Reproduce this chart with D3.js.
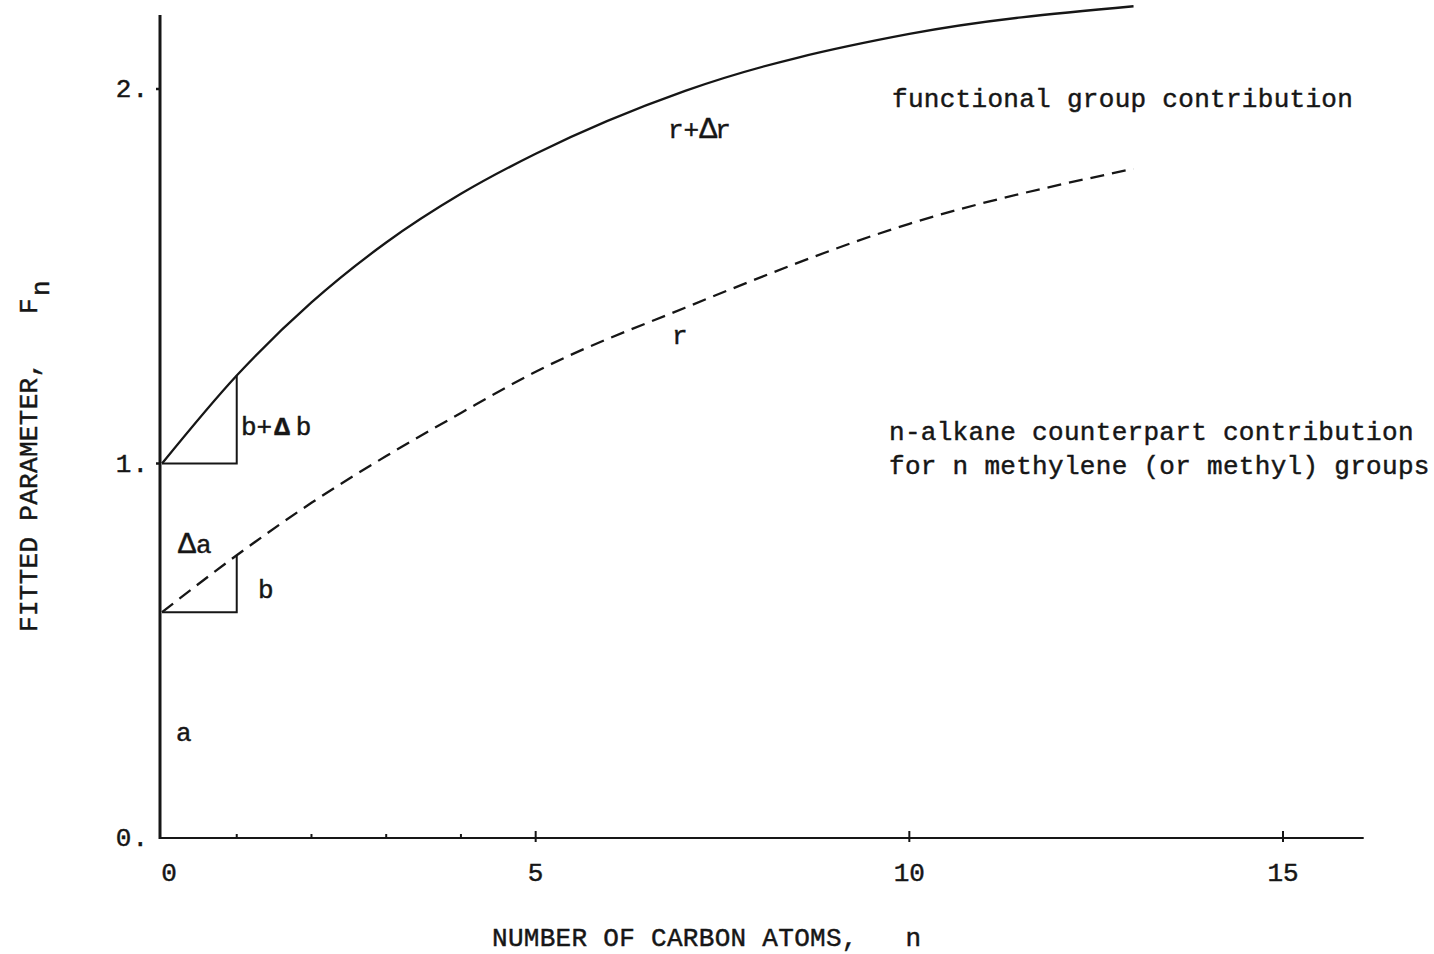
<!DOCTYPE html>
<html>
<head>
<meta charset="utf-8">
<script src="https://cdn.jsdelivr.net/npm/d3@7"></script>
<style>
  html, body { margin: 0; padding: 0; background: #fff; }
  svg text { font-family: 'Liberation Mono', 'DejaVu Sans Mono', monospace; fill: #161616; stroke: #161616; stroke-width: 0.45; white-space: pre; }
</style>
</head>
<body>
<svg id="chart" width="1434" height="954"></svg>
<script>
// ── Data ─────────────────────────────────────────────────────────
const nFunctional = [0, 1, 2, 3, 4, 5, 7, 10, 13];
const fFunctional = [1.0, 1.235, 1.43, 1.59, 1.72, 1.827, 1.995, 2.147, 2.221];   // r + Δr (solid)

const nAlkane = [0, 1, 2, 3, 4, 5, 7, 10, 13];
const fAlkane = [0.603, 0.755, 0.895, 1.02, 1.135, 1.245, 1.416, 1.64, 1.787]; // r (dashed)

const xTickValues = [0, 5, 10, 15];
const xTickLabels = ['0', '5', '10', '15'];
const xMinorTicks = [1, 2, 3, 4];
const yTickValues = [0, 1, 2];
const yTickLabels = ['0.', '1.', '2.'];

const INK = '#161616';
const svg = d3.select('#chart');

// scales
const x = d3.scaleLinear().domain([0, 15]).range([162, 1283]);
const y = d3.scaleLinear().domain([0, 2]).range([838, 89]);

// ── Axes ─────────────────────────────────────────────────────────
svg.append('line')
    .attr('x1', 160).attr('x2', 160)
    .attr('y1', y(0) + 1).attr('y2', 15)
    .attr('stroke', INK).attr('stroke-width', 3);

svg.append('line')
    .attr('x1', 159).attr('x2', x(16.08))
    .attr('y1', y(0)).attr('y2', y(0))
    .attr('stroke', INK).attr('stroke-width', 2.2);

// x ticks
svg.selectAll('.x-minor')
    .data(xMinorTicks)
    .join('line')
    .attr('class', 'x-minor')
    .attr('x1', d => x(d)).attr('x2', d => x(d))
    .attr('y1', y(0)).attr('y2', y(0) - 4)
    .attr('stroke', INK).attr('stroke-width', 2);

svg.selectAll('.x-major')
    .data(xTickValues.filter(d => d > 0))
    .join('line')
    .attr('class', 'x-major')
    .attr('x1', d => x(d)).attr('x2', d => x(d))
    .attr('y1', y(0) + 4).attr('y2', y(0) - 7)
    .attr('stroke', INK).attr('stroke-width', 2);

svg.selectAll('.x-label')
    .data(xTickValues)
    .join('text')
    .attr('class', 'x-label')
    .attr('x', (d, i) => i === 0 ? x(d) + 7 : x(d))
    .attr('y', 881)
    .attr('text-anchor', 'middle')
    .attr('font-size', 26)
    .text((d, i) => xTickLabels[i]);

// y ticks (small dots left of axis) + labels
svg.selectAll('.y-tick')
    .data(yTickValues.filter(d => d > 0))
    .join('line')
    .attr('class', 'y-tick')
    .attr('x1', 156).attr('x2', 160)
    .attr('y1', d => y(d)).attr('y2', d => y(d))
    .attr('stroke', INK).attr('stroke-width', 2.5);

svg.selectAll('.y-label')
    .data(yTickValues)
    .join('text')
    .attr('class', 'y-label')
    .attr('x', 149)
    .attr('y', d => y(d) + 8)
    .attr('text-anchor', 'end')
    .attr('font-size', 26)
    .attr('letter-spacing', 1)
    .text((d, i) => yTickLabels[i]);

// ── Curves ───────────────────────────────────────────────────────
const line = d3.line()
    .x(d => x(d[0]))
    .y(d => y(d[1]))
    .curve(d3.curveMonotoneX);

svg.append('path')
    .attr('d', line(nFunctional.map((n, i) => [n, fFunctional[i]])))
    .attr('fill', 'none')
    .attr('stroke', INK)
    .attr('stroke-width', 2.3);

svg.append('path')
    .attr('d', line(nAlkane.map((n, i) => [n, fAlkane[i]])))
    .attr('fill', 'none')
    .attr('stroke', INK)
    .attr('stroke-width', 2.3)
    .attr('stroke-dasharray', '14,8');

// slope triangles at n = 1
const tri = [
    [[0, fFunctional[0]], [1, fFunctional[0]], [1, fFunctional[1]]],
    [[0, fAlkane[0]], [1, fAlkane[0]], [1, fAlkane[1]]]
];
svg.selectAll('.tri')
    .data(tri)
    .join('path')
    .attr('class', 'tri')
    .attr('d', d => d3.line().x(p => x(p[0])).y(p => y(p[1]))(d))
    .attr('fill', 'none')
    .attr('stroke', INK)
    .attr('stroke-width', 2);

// ── Annotations ─────────────────────────────────────────────────
function label(px, py, str, size) {
    return svg.append('text')
        .attr('x', px).attr('y', py)
        .attr('font-size', size || 26)
        .attr('letter-spacing', 0.3)
        .text(str);
}

label(892, 107, 'functional group contribution');
label(889, 440, 'n-alkane counterpart contribution');
label(889, 474, 'for n methylene (or methyl) groups');
label(672, 344, 'r');
label(258, 598, 'b');
label(176, 741, 'a');

const rdr = svg.append('text').attr('x', 668).attr('y', 138).attr('font-size', 26);
rdr.append('tspan').text('r+');
rdr.append('tspan').attr('font-size', 30).text('Δ');
rdr.append('tspan').attr('dx', -2).text('r');

const bdb = svg.append('text').attr('x', 241).attr('y', 435).attr('font-size', 26);
bdb.append('tspan').text('b+');
bdb.append('tspan').attr('dx', 2).attr('font-weight', 'bold').text('Δ');
bdb.append('tspan').attr('dx', 6).text('b');

const da = svg.append('text').attr('x', 178).attr('y', 553).attr('font-size', 26);
da.append('tspan').attr('font-size', 30).text('Δ');
da.append('tspan').text('a');

// axis titles
label(492, 946, 'NUMBER OF CARBON ATOMS,   n');

const yt = svg.append('text')
    .attr('transform', 'translate(37,632) rotate(-90)')
    .attr('font-size', 26)
    .attr('letter-spacing', 0.3);
yt.append('tspan').text('FITTED PARAMETER,   F');
yt.append('tspan').attr('dy', 12).attr('dx', 2).text('n');
</script>
</body>
</html>
